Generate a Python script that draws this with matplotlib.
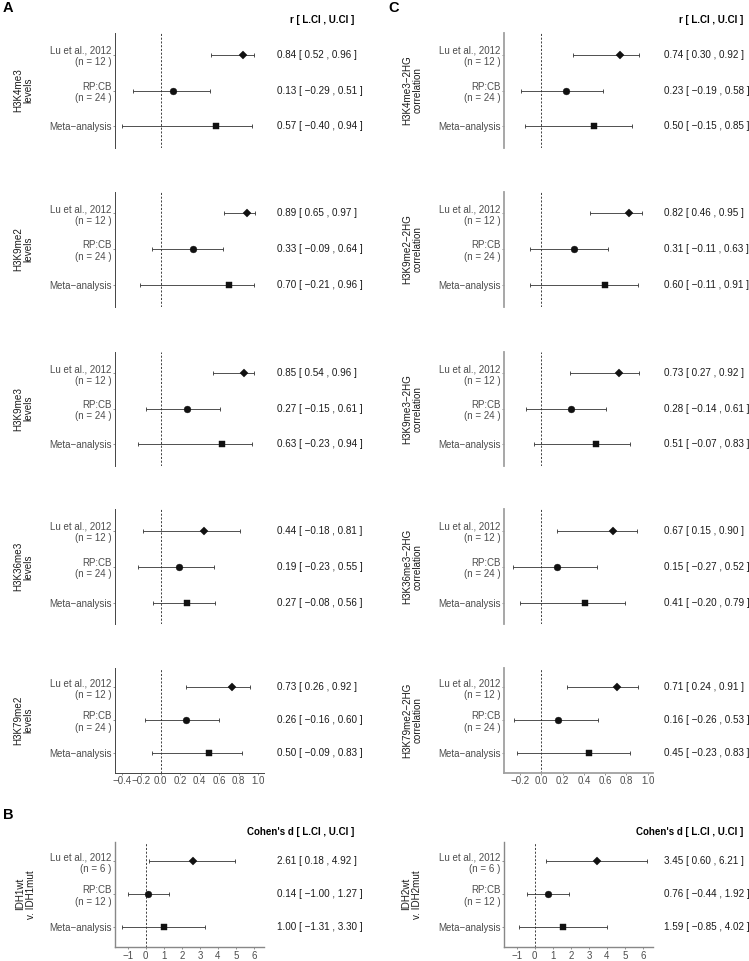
import matplotlib.pyplot as plt
from matplotlib.transforms import blended_transform_factory

plt.rcParams['font.family'] = ['Liberation Sans', 'DejaVu Sans']

MINUS = "\u2212"

# study rows, top to bottom
studies_r = ["Lu et al., 2012\n(n = 12 )", "RP:CB\n(n = 24 )", "Meta" + MINUS + "analysis"]
studies_d = ["Lu et al., 2012\n(n = 6 )", "RP:CB\n(n = 12 )", "Meta" + MINUS + "analysis"]
markers = ["D", "o", "s"]

# panel A: histone mark levels (r, 95% CI)
a_labels = ["H3K4me3\nlevels", "H3K9me2\nlevels", "H3K9me3\nlevels",
            "H3K36me3\nlevels", "H3K79me2\nlevels"]
a_est = [[0.84, 0.13, 0.57], [0.89, 0.33, 0.70], [0.85, 0.27, 0.63],
         [0.44, 0.19, 0.27], [0.73, 0.26, 0.50]]
a_lci = [[0.52, -0.29, -0.40], [0.65, -0.09, -0.21], [0.54, -0.15, -0.23],
         [-0.18, -0.23, -0.08], [0.26, -0.16, -0.09]]
a_uci = [[0.96, 0.51, 0.94], [0.97, 0.64, 0.96], [0.96, 0.61, 0.94],
         [0.81, 0.55, 0.56], [0.92, 0.60, 0.83]]

# panel C: histone mark vs 2HG correlation (r, 95% CI)
c_labels = ["H3K4me3" + MINUS + "2HG\ncorrelation", "H3K9me2" + MINUS + "2HG\ncorrelation",
            "H3K9me3" + MINUS + "2HG\ncorrelation", "H3K36me3" + MINUS + "2HG\ncorrelation",
            "H3K79me2" + MINUS + "2HG\ncorrelation"]
c_est = [[0.74, 0.23, 0.50], [0.82, 0.31, 0.60], [0.73, 0.28, 0.51],
         [0.67, 0.15, 0.41], [0.71, 0.16, 0.45]]
c_lci = [[0.30, -0.19, -0.15], [0.46, -0.11, -0.11], [0.27, -0.14, -0.07],
         [0.15, -0.27, -0.20], [0.24, -0.26, -0.23]]
c_uci = [[0.92, 0.58, 0.85], [0.95, 0.63, 0.91], [0.92, 0.61, 0.83],
         [0.90, 0.52, 0.79], [0.91, 0.53, 0.83]]

# panel B: wt vs mut (Cohen's d, 95% CI)
b_labels = ["IDH1wt\nv. IDH1mut", "IDH2wt\nv. IDH2mut"]
b_est = [[2.61, 0.14, 1.00], [3.45, 0.76, 1.59]]
b_lci = [[0.18, -1.00, -1.31], [0.60, -0.44, -0.85]]
b_uci = [[4.92, 1.27, 3.30], [6.21, 1.92, 4.02]]

r_ticks_a = [-0.4, -0.2, 0.0, 0.2, 0.4, 0.6, 0.8, 1.0]
r_ticks_c = [-0.2, 0.0, 0.2, 0.4, 0.6, 0.8, 1.0]
d_ticks = [-1, 0, 1, 2, 3, 4, 5, 6]

W, H = 749, 961
FS = 7.0
VS = 7.1  # value text
fig = plt.figure(figsize=(W / 100, H / 100), dpi=100)


def px_axes(x, top, w, h):
    return fig.add_axes([x / W, 1 - (top + h) / H, w / W, h / H])


def fmt(v):
    return f"{v:.2f}".replace("-", MINUS)


def forest(ax, est, lci, uci, rows, xlim, text_x, spine_col, spine_lw, ticks=None, tick_fmt=None):
    ys = [3, 2, 1]
    for y, e, l, u, m in zip(ys, est, lci, uci, markers):
        ax.errorbar(e, y, xerr=[[e - l], [u - e]], fmt='none', ecolor='#333333',
                    elinewidth=0.6, capsize=1.1, capthick=0.6, zorder=2)
        ms = {"D": 4.2, "o": 4.9, "s": 4.4}[m]
        ax.plot(e, y, marker=m, ms=ms, color='#111111', mew=0.3, ls='none', zorder=3)
        tr = blended_transform_factory(fig.transFigure, ax.transData)
        ax.text(text_x / W, y, f"{fmt(e)} [ {fmt(l)} , {fmt(u)} ]", transform=tr,
                fontsize=VS, color='#1a1a1a', ha='left', va='center', clip_on=False)
    ax.axvline(0, color='#222222', lw=0.6, ls=(0, (2.5, 2.0)), zorder=1)
    ax.set_xlim(*xlim)
    ax.set_ylim(0.4, 3.6)
    ax.set_yticks(ys)
    ax.set_yticklabels(rows)
    ax.tick_params(axis='y', length=1.5, width=0.5, color='#666666', pad=1,
                   labelsize=FS, labelcolor='#4d4d4d')
    ax.patch.set_alpha(0)
    for s in ['top', 'right']:
        ax.spines[s].set_visible(False)
    ax.spines['left'].set_color(spine_col)
    ax.spines['left'].set_linewidth(spine_lw)
    if ticks is None:
        ax.spines['bottom'].set_visible(False)
        ax.set_xticks([])
    else:
        ax.spines['bottom'].set_color(spine_col)
        ax.spines['bottom'].set_linewidth(spine_lw)
        ax.set_xticks(ticks)
        ax.set_xticklabels([tick_fmt(t) for t in ticks])
        ax.tick_params(axis='x', length=1.5, width=0.5, color='#666666', pad=1,
                       labelsize=FS, labelcolor='#4d4d4d')


tops = [33, 191.7, 351.7, 509.3, 667.7]
heights = [115, 115, 114, 115, 105.3]
r_fmt = lambda t: f"{t:.1f}".replace("-", MINUS)
d_fmt = lambda t: f"{t:d}".replace("-", MINUS)

for i in range(5):
    last = i == 4
    ax = px_axes(115, tops[i], 149, heights[i])
    forest(ax, a_est[i], a_lci[i], a_uci[i], studies_r, (-0.47, 1.06), 277,
           '#444444', 0.7, r_ticks_a if last else None, r_fmt)
    fig.text(23.3 / W, 1 - (tops[i] + heights[i] / 2) / H, a_labels[i], rotation=90,
             ha='center', va='center', fontsize=VS, color='#1a1a1a', linespacing=1.05)

    ax = px_axes(504, tops[i], 149, heights[i])
    forest(ax, c_est[i], c_lci[i], c_uci[i], studies_r, (-0.35, 1.05), 664,
           '#a0a0a0', 1.3, r_ticks_c if last else None, r_fmt)
    fig.text(412.5 / W, 1 - (tops[i] + heights[i] / 2) / H, c_labels[i], rotation=90,
             ha='center', va='center', fontsize=VS, color='#1a1a1a', linespacing=1.05)

b_top, b_h = 841.5, 105.6
for j, (x0, lab_x, txt_x) in enumerate([(115, 25.7, 277), (504, 411.7, 664)]):
    ax = px_axes(x0, b_top, 149, b_h)
    forest(ax, b_est[j], b_lci[j], b_uci[j], studies_d, (-1.7, 6.55), txt_x,
           '#888888', 1.0, d_ticks, d_fmt)
    fig.text(lab_x / W, 1 - (b_top + b_h / 2) / H, b_labels[j], rotation=90,
             ha='center', va='center', fontsize=VS, color='#1a1a1a', linespacing=1.05)

# column headers
for hx, hy, htxt in [(354, 20, "r [ L.CI , U.CI ]"), (743, 20, "r [ L.CI , U.CI ]"),
                     (354, 832, "Cohen's d [ L.CI , U.CI ]"),
                     (743, 832, "Cohen's d [ L.CI , U.CI ]")]:
    fig.text(hx / W, 1 - hy / H, htxt, ha='right', va='center',
             fontsize=FS, fontweight='bold')

# panel letters
fig.text(3 / W, 1 - 7.5 / H, "A", fontsize=10.5, fontweight='bold', ha='left', va='center')
fig.text(388 / W, 1 - 7.5 / H, "C", fontsize=10.5, fontweight='bold', ha='left', va='center')
fig.text(3 / W, 1 - 815 / H, "B", fontsize=10.5, fontweight='bold', ha='left', va='center')

fig.savefig("out.png", dpi=100)
